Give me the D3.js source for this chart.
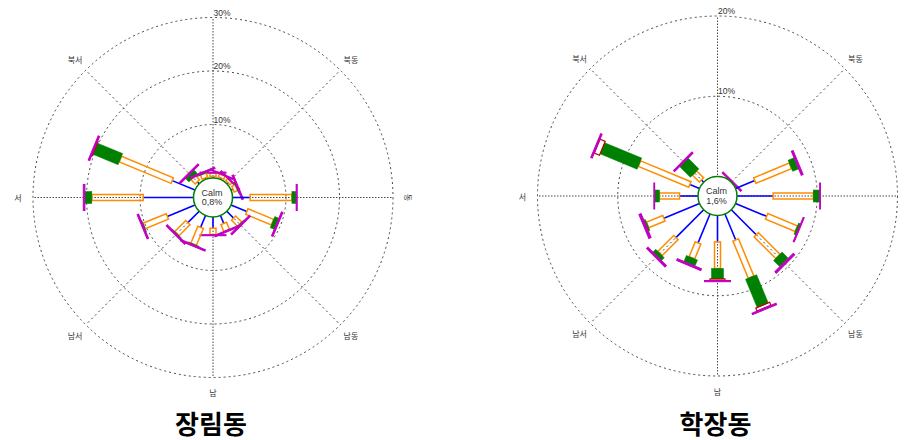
<!DOCTYPE html>
<html>
<head>
<meta charset="utf-8">
<script src="https://cdn.jsdelivr.net/npm/d3@7"></script>
<style>
  html, body { margin: 0; padding: 0; background: #fff; }
  svg { display: block; }
</style>
</head>
<body>
<svg id="chart" width="907" height="440"></svg>
<script>
// 16 compass sectors, clockwise from north
const directions = ["N","NNE","NE","ENE","E","ESE","SE","SSE","S","SSW","SW","WSW","W","WNW","NW","NNW"];
const compassLabels = [
  { angle: 45,  text: "북동" },
  { angle: 90,  text: "동", rotate: 90 },
  { angle: 135, text: "남동" },
  { angle: 180, text: "남" },
  { angle: 225, text: "남서" },
  { angle: 270, text: "서" },
  { angle: 315, text: "북서" }
];

// Frequency (%) per wind-speed class for each sector, classes ordered slow -> fast
const jangnimClass1 = [0.3, 0.3, 0.3, 0.4, 3.3, 3.2, 1.8, 1.6, 2.1, 2.4, 3.0, 5.6, 9.4, 4.6, 0.5, 0.3];
const jangnimClass2 = [0.6, 0.6, 0.5, 0.7, 7.8, 5.2, 1.6, 1.4, 1.2, 3.4, 2.9, 4.7, 9.6, 10.5, 1.1, 0.8];
const jangnimClass3 = [0.0, 0.0, 0.0, 0.1, 0.8, 0.8, 0.1, 0.0, 0.0, 0.1, 0.1, 0.1, 1.3, 5.1, 0.9, 0.1];
const jangnimClass4 = [0.0, 0.0, 0.0, 0.0, 0.0, 0.0, 0.0, 0.0, 0.0, 0.0, 0.0, 0.0, 0.0, 0.1, 0.0, 0.0];
const jangnimClass5 = [0.2, 0.2, 0.2, 0.3, 0.2, 0.3, 0.3, 0.3, 0.2, 0.3, 0.3, 0.3, 0.3, 0.3, 0.3, 0.3];
const jangnimCalm = "0,8%";
const jangnimTicks = [10, 20, 30];

const hakjangClass1 = [0.0, 0.0, 0.0, 2.6, 4.5, 4.2, 4.4, 3.5, 3.3, 3.9, 4.9, 4.8, 2.3, 1.3, 0.4, 0.0];
const hakjangClass2 = [0.0, 0.0, 0.0, 4.8, 5.0, 4.0, 3.8, 5.0, 3.3, 2.0, 2.8, 2.2, 2.5, 6.8, 1.2, 0.0];
const hakjangClass3 = [0.0, 0.0, 0.0, 0.8, 0.8, 0.25, 1.1, 3.8, 1.3, 0.8, 0.5, 0.2, 0.6, 5.0, 1.9, 0.0];
const hakjangClass4 = [0.0, 0.0, 0.0, 0.0, 0.0, 0.0, 0.0, 0.4, 0.2, 0.0, 0.0, 0.0, 0.0, 0.7, 0.0, 0.0];
const hakjangClass5 = [0.0, 0.0, 0.2, 0.25, 0.1, 0.15, 0.25, 0.2, 0.15, 0.25, 0.25, 0.3, 0.1, 0.2, 0.2, 0.0];
const hakjangCalm = "1,6%";
const hakjangTicks = [10, 20];

const stations = [
  { name: "장림동", classes: [jangnimClass1, jangnimClass2, jangnimClass3, jangnimClass4, jangnimClass5],
    calm: jangnimCalm, ticks: jangnimTicks, cx: 213, cy: 197.5 },
  { name: "학장동", classes: [hakjangClass1, hakjangClass2, hakjangClass3, hakjangClass4, hakjangClass5],
    calm: hakjangCalm, ticks: hakjangTicks, cx: 717.5, cy: 196 }
];

// Drawing style of each speed class
const classStyles = [
  { kind: "line", color: "#0000ff", width: 1.6 },
  { kind: "rect", color: "#ff8c00", width: 6,  fill: "none",    stroke: 1.5 },
  { kind: "rect", color: "#008000", width: 12, fill: "#008000", stroke: 0.5 },
  { kind: "rect", color: "#c00000", width: 15, fill: "none",    stroke: 1.2 },
  { kind: "rect", color: "#c000c0", width: 26, fill: "#c000c0", stroke: 1 }
];

const width = 907, height = 440;
const calmRadius = 19.5;
const outerRadius = 180;
const gridColor = "#333";

const svg = d3.select("#chart");
svg.append("rect").attr("width", width).attr("height", height).attr("fill", "#fff");

stations.forEach(st => {
  const maxTick = d3.max(st.ticks);
  const r = d3.scaleLinear().domain([0, maxTick]).range([calmRadius, outerRadius]);
  const g = svg.append("g").attr("transform", `translate(${st.cx},${st.cy})`);

  // rings
  g.selectAll("circle.ring").data(st.ticks).join("circle")
    .attr("class", "ring")
    .attr("r", d => r(d))
    .attr("fill", "none")
    .attr("stroke", gridColor)
    .attr("stroke-width", 0.9)
    .attr("stroke-dasharray", "2,3");

  // spokes every 45 degrees
  g.selectAll("line.spoke").data(d3.range(0, 360, 45)).join("line")
    .attr("class", "spoke")
    .attr("x1", 0).attr("y1", 0)
    .attr("x2", a => outerRadius * Math.sin(a * Math.PI / 180))
    .attr("y2", a => -outerRadius * Math.cos(a * Math.PI / 180))
    .attr("stroke", gridColor)
    .attr("stroke-width", 0.9)
    .attr("stroke-dasharray", a => a % 90 === 0 ? "1.5,1.5" : "2,3");

  // ring labels along the north spoke
  g.selectAll("text.tick").data(st.ticks).join("text")
    .attr("class", "tick")
    .attr("x", 0.5)
    .attr("y", d => -r(d) - 1.8)
    .attr("font-family", "Liberation Sans, Arial, sans-serif")
    .attr("font-size", 8.5)
    .attr("fill", "#333")
    .text(d => d + "%");

  // compass labels (those falling past the canvas edge are left out)
  const labelR = 195;
  compassLabels.forEach(l => {
    const a = l.angle * Math.PI / 180;
    const x = labelR * Math.sin(a), y = -labelR * Math.cos(a);
    if (st.cx + x + 6 > width) return;
    const t = g.append("text")
      .attr("font-family", "Noto Sans CJK KR, sans-serif")
      .attr("font-size", 8)
      .attr("fill", "#333")
      .attr("text-anchor", "middle")
      .attr("dominant-baseline", "central")
      .text(l.text);
    if (l.rotate) t.attr("transform", `translate(${x},${y}) rotate(${l.rotate})`);
    else t.attr("x", x).attr("y", y);
  });

  // stacked petals
  directions.forEach((dir, i) => {
    const angle = i * 22.5;
    const pg = g.append("g").attr("transform", `rotate(${angle})`);
    let cum = 0;
    st.classes.forEach((vals, c) => {
      const v = vals[i];
      const r1 = r(cum), r2 = r(cum + v);
      cum += v;
      if (v <= 0) return;
      const s = classStyles[c];
      if (s.kind === "line") {
        pg.append("line")
          .attr("x1", 0).attr("x2", 0).attr("y1", -r1).attr("y2", -r2)
          .attr("stroke", s.color).attr("stroke-width", s.width);
      } else {
        pg.append("rect")
          .attr("x", -s.width / 2).attr("width", s.width)
          .attr("y", -r2).attr("height", Math.max(r2 - r1, 0.6))
          .attr("fill", s.fill).attr("stroke", s.color).attr("stroke-width", s.stroke);
      }
    });
  });

  // calm circle
  g.append("circle").attr("r", calmRadius)
    .attr("fill", "#fff").attr("stroke", "#008000").attr("stroke-width", 1.5);
  g.append("text").attr("x", -1).attr("y", -2)
    .attr("text-anchor", "middle")
    .attr("font-family", "Liberation Sans, Arial, sans-serif")
    .attr("font-size", 9).attr("fill", "#333")
    .text("Calm");
  g.append("text").attr("x", -1).attr("y", 7.5)
    .attr("text-anchor", "middle")
    .attr("font-family", "Liberation Sans, Arial, sans-serif")
    .attr("font-size", 9).attr("fill", "#333")
    .text(st.calm);

  // station title
  svg.append("text")
    .attr("x", st.cx - 2).attr("y", 434)
    .attr("text-anchor", "middle")
    .attr("font-family", "Noto Sans CJK KR, sans-serif")
    .attr("font-weight", "bold")
    .attr("font-size", 26)
    .attr("fill", "#000")
    .text(st.name);
});
</script>
</body>
</html>
